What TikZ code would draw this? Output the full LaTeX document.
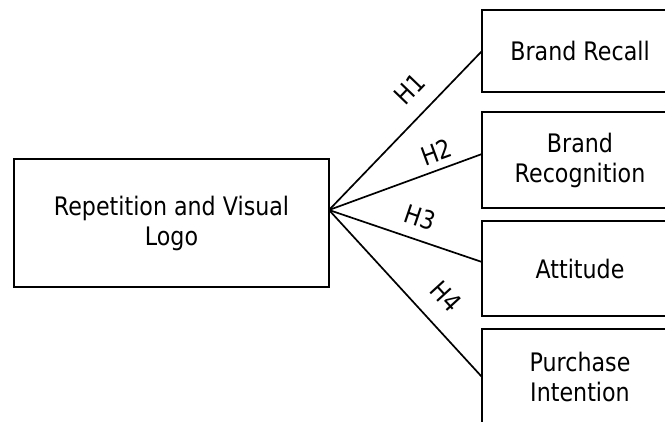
\documentclass[tikz,border=0pt]{standalone}
\usepackage{fontspec}
\setmainfont[FakeStretch=0.87]{DejaVu Sans}
\begin{document}
\begin{tikzpicture}[x=1pt,y=-1pt,
  every node/.style={font=\fontsize{25.5}{30}\selectfont},
  box/.style={draw,line width=1.8pt,rectangle,inner sep=0pt,outer sep=0pt,align=center},
  srcbox/.style={box,minimum width=315pt,minimum height=128pt},
  tgtbox/.style={box,minimum width=196pt},
  link/.style={line width=1.7pt},
  hyp/.style={sloped,inner sep=0pt}]
\useasboundingbox (0,0) rectangle (665,421);
\clip (0,0) rectangle (665,421);

% independent variable
\node[srcbox] (src) at (171.5,223) {Repetition and Visual\\Logo};

% dependent variables
\node[tgtbox,minimum height=82pt] (b1) at (580,51)    {Brand Recall};
\node[tgtbox,minimum height=96pt] (b2) at (580,160)   {Brand\\Recognition};
\node[tgtbox,minimum height=95pt] (b3) at (580,268.5) {Attitude};
\node[tgtbox,minimum height=96pt] (b4) at (580,377)   {Purchase\\Intention};

% hypotheses
\draw[link] ([yshift=13pt]src.east) -- (b1.west)
  node[hyp,pos=0.65,above=16pt] {H1};
\draw[link] ([yshift=13pt]src.east) -- ([yshift=6pt]b2.west)
  node[hyp,pos=0.74,above=7pt] {H2};
\draw[link] ([yshift=13pt]src.east) -- ([yshift=6.5pt]b3.west)
  node[hyp,pos=0.55,above=12pt] {H3};
\draw[link] ([yshift=13pt]src.east) -- (b4.west)
  node[hyp,pos=0.63,above=18pt] {H4};
\end{tikzpicture}
\end{document}
